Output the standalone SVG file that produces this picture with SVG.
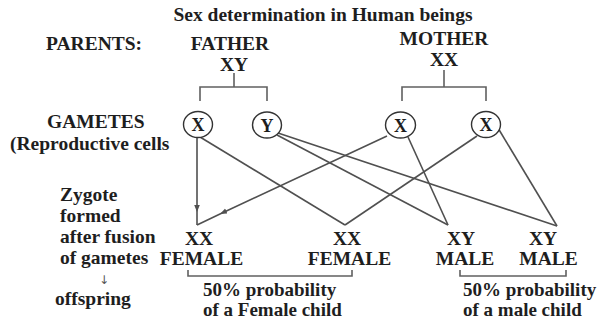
<svg xmlns="http://www.w3.org/2000/svg" width="605" height="324" viewBox="0 0 605 324">
<style>
text{font-family:"Liberation Serif","Times New Roman",serif;font-weight:bold;font-size:19.5px;fill:#1e1e1e}
.c{text-anchor:middle}
.g{font-size:18px}
.p{font-size:19px}
.ln{stroke:#505050;stroke-width:1.6;fill:none}
.br{stroke:#606060;stroke-width:1.6;fill:none}
.cir{fill:#fff;stroke:#333;stroke-width:1.4}
</style>
<defs>
<marker id="ah" viewBox="0 0 10 10" refX="10" refY="5" markerWidth="7" markerHeight="7" markerUnits="userSpaceOnUse" orient="auto">
<path d="M0,1 L10,5 L0,9 Z" fill="#505050"/>
</marker>
</defs>
<rect width="605" height="324" fill="#fff"/>
<text class="c" x="323" y="21">Sex determination in Human beings</text>
<g id="labels">
<text x="46" y="50">PARENTS:</text>
<text x="47" y="128">GAMETES</text>
<text x="10" y="150">(Reproductive cells</text>
<text x="60" y="201">Zygote</text>
<text x="60" y="222">formed</text>
<text x="60" y="243">after fusion</text>
<text x="60" y="264">of gametes</text>
<text class="c" x="104" y="284" style="font-family:'DejaVu Sans',sans-serif;font-weight:normal;font-size:12px;fill:#555">↓</text>
<text x="55" y="305">offspring</text>
</g>
<g id="father">
<text class="c" x="230" y="50">FATHER</text>
<text class="c" x="234" y="71">XY</text>
<path class="br" d="M234,73 V87 M200,101 V87 H267 V101"/>
</g>
<g id="mother">
<text class="c" x="444" y="45">MOTHER</text>
<text class="c" x="444" y="66">XX</text>
<path class="br" d="M444,70 V87 M402,101 V87 H486 V101"/>
</g>
<g id="connectors">
<path class="ln" d="M197,137 L197,212 L197,225" marker-mid="url(#ah)"/>
<path class="ln" d="M387,136 L220,214 L197,225" marker-mid="url(#ah)"/>
<path class="ln" d="M200,137 L345,225"/>
<path class="ln" d="M477,136 L345,225"/>
<path class="ln" d="M277,135 L448,225"/>
<path class="ln" d="M408,137 L448,225"/>
<path class="ln" d="M278,133 L557,226"/>
<path class="ln" d="M498,128 L557,226"/>
</g>
<g id="gamete-father-x">
<ellipse class="cir" cx="198" cy="124.5" rx="14.5" ry="13"/>
<text class="c g" x="198" y="131">X</text>
</g>
<g id="gamete-father-y">
<ellipse class="cir" cx="267" cy="125" rx="14.5" ry="13"/>
<text class="c g" x="267" y="131.5">Y</text>
</g>
<g id="gamete-mother-x1">
<ellipse class="cir" cx="400.5" cy="125" rx="15" ry="13"/>
<text class="c g" x="400.5" y="131.5">X</text>
</g>
<g id="gamete-mother-x2">
<ellipse class="cir" cx="486" cy="124.5" rx="14.5" ry="13"/>
<text class="c g" x="486" y="131">X</text>
</g>
<g id="offspring-1">
<text class="c" x="199" y="245">XX</text>
<text class="c" x="201.5" y="265">FEMALE</text>
</g>
<g id="offspring-2">
<text class="c" x="347" y="245">XX</text>
<text class="c" x="349.5" y="265">FEMALE</text>
</g>
<g id="offspring-3">
<text class="c" x="461" y="245">XY</text>
<text class="c" x="465" y="265">MALE</text>
</g>
<g id="offspring-4">
<text class="c" x="543" y="245">XY</text>
<text class="c" x="548.5" y="265">MALE</text>
</g>
<g id="female-prob">
<path class="br" d="M188,270 V276 H352 V270"/>
<text class="p" x="203" y="296">50% probability</text>
<text class="p" x="203" y="316">of a Female child</text>
</g>
<g id="male-prob">
<path class="br" d="M460,270 V276 H566 V270"/>
<text class="p" x="463" y="296">50% probability</text>
<text class="p" x="463" y="316">of a male child</text>
</g>
</svg>
